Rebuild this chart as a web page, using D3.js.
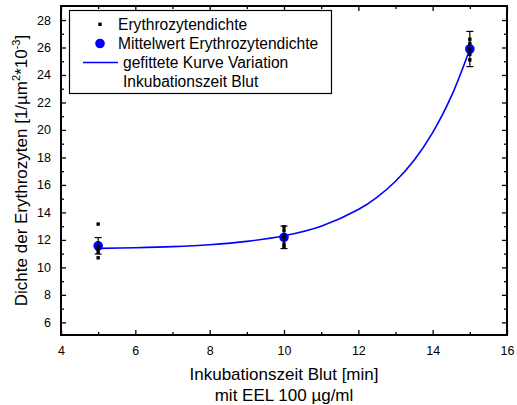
<!DOCTYPE html>
<html>
<head>
<meta charset="utf-8">
<script src="https://cdn.jsdelivr.net/npm/d3@7"></script>
<style>
  html, body { margin: 0; padding: 0; background: #fff; }
  svg { display: block; font-family: "Liberation Sans", Arial, sans-serif; }
</style>
</head>
<body>
<svg id="chart" width="517" height="405"></svg>
<script>
// Incubation times (min) and measured erythrocyte densities per time
const times = [5, 10, 15];
const densities = [
  [13.15, 11.5, 11.3, 11.1, 10.7],
  [12.95, 12.7, 12.2, 11.7, 11.5],
  [26.6, 26.3, 25.9, 25.5, 25.1]
];
// Mean values and their error bars
const means = [11.57, 12.19, 25.89];
const errors = [0.6, 0.82, 1.28];
// Fitted curve samples (exponential growth fit)
const fitX = [5, 6, 7, 8, 9, 10, 11, 12, 12.5, 13, 13.5, 14, 14.5, 15];
const fitY = [11.38, 11.43, 11.51, 11.65, 11.89, 12.30, 13.0, 14.21, 15.10, 16.27, 17.80, 19.81, 22.44, 25.88];
// Tick values
const xTicks = [4, 6, 8, 10, 12, 14, 16];
const xMinor = [5, 7, 9, 11, 13, 15];
const yTicks = [6, 8, 10, 12, 14, 16, 18, 20, 22, 24, 26, 28];
const yMinor = [7, 9, 11, 13, 15, 17, 19, 21, 23, 25, 27];
const legendLabels = ["Erythrozytendichte", "Mittelwert Erythrozytendichte", "gefittete Kurve Variation", "Inkubationszeit Blut"];

const blue = "#0000ff";
const svg = d3.select("#chart");
const pLeft = 61, pRight = 507, pTop = 6, pBottom = 335;

const x = d3.scaleLinear().domain([4, 16]).range([pLeft, pRight]);
const y = d3.scaleLinear().domain([5.08, 29.02]).range([pBottom, pTop]);

// Axes with inward-pointing ticks
function styleAxis(g) {
  g.select(".domain").remove();
  g.selectAll("line").attr("stroke", "#000").attr("stroke-width", 1.3);
  g.selectAll("text").attr("fill", "#000");
}
svg.append("g").attr("transform", `translate(0,${pBottom})`)
  .call(d3.axisBottom(x).tickValues(xTicks).tickSizeInner(-5).tickSizeOuter(0).tickPadding(11).tickFormat(d3.format("d")))
  .call(styleAxis).selectAll("text").attr("font-size", 12.5).attr("font-family", "Liberation Sans, Arial, sans-serif");
svg.append("g").attr("transform", `translate(0,${pBottom})`)
  .call(d3.axisBottom(x).tickValues(xMinor).tickSizeInner(-3).tickSizeOuter(0).tickFormat(""))
  .call(styleAxis);
svg.append("g").attr("transform", `translate(0,${pTop})`)
  .call(d3.axisTop(x).tickValues(xTicks).tickSizeInner(-5).tickSizeOuter(0).tickFormat(""))
  .call(styleAxis);
svg.append("g").attr("transform", `translate(0,${pTop})`)
  .call(d3.axisTop(x).tickValues(xMinor).tickSizeInner(-3).tickSizeOuter(0).tickFormat(""))
  .call(styleAxis);

svg.append("g").attr("transform", `translate(${pLeft},0)`)
  .call(d3.axisLeft(y).tickValues(yTicks).tickSizeInner(-5).tickSizeOuter(0).tickPadding(10).tickFormat(d3.format("d")))
  .call(styleAxis).selectAll("text").attr("font-size", 12.5).attr("font-family", "Liberation Sans, Arial, sans-serif");
svg.append("g").attr("transform", `translate(${pLeft},0)`)
  .call(d3.axisLeft(y).tickValues(yMinor).tickSizeInner(-3).tickSizeOuter(0).tickFormat(""))
  .call(styleAxis);
svg.append("g").attr("transform", `translate(${pRight},0)`)
  .call(d3.axisRight(y).tickValues(yTicks).tickSizeInner(-5).tickSizeOuter(0).tickFormat(""))
  .call(styleAxis);
svg.append("g").attr("transform", `translate(${pRight},0)`)
  .call(d3.axisRight(y).tickValues(yMinor).tickSizeInner(-3).tickSizeOuter(0).tickFormat(""))
  .call(styleAxis);

// Plot frame
svg.append("rect")
  .attr("x", pLeft).attr("y", pTop)
  .attr("width", pRight - pLeft).attr("height", pBottom - pTop)
  .attr("fill", "none").attr("stroke", "#000").attr("stroke-width", 2);

// Fitted curve
const fitPts = fitX.map((d, i) => [d, fitY[i]]);
svg.append("path")
  .datum(fitPts)
  .attr("fill", "none").attr("stroke", blue).attr("stroke-width", 1.6)
  .attr("d", d3.line().x(d => x(d[0])).y(d => y(d[1])).curve(d3.curveCatmullRom.alpha(0.5)));

// Mean markers
svg.append("g").selectAll("circle")
  .data(times.map((t, i) => [t, means[i]]))
  .join("circle")
  .attr("cx", d => x(d[0])).attr("cy", d => y(d[1])).attr("r", 4.8)
  .attr("fill", blue);

// Error bars
const eb = svg.append("g").attr("stroke", "#000").attr("stroke-width", 1.2);
times.forEach((t, i) => {
  const cx = x(t), y1 = y(means[i] + errors[i]), y2 = y(means[i] - errors[i]);
  eb.append("line").attr("x1", cx).attr("x2", cx).attr("y1", y1).attr("y2", y2);
  eb.append("line").attr("x1", cx - 3.5).attr("x2", cx + 3.5).attr("y1", y1).attr("y2", y1);
  eb.append("line").attr("x1", cx - 3.5).attr("x2", cx + 3.5).attr("y1", y2).attr("y2", y2);
});

// Individual measurements
const pts = [];
times.forEach((t, i) => densities[i].forEach(v => pts.push([t, v])));
svg.append("g").selectAll("rect")
  .data(pts)
  .join("rect")
  .attr("x", d => x(d[0]) - 1.7).attr("y", d => y(d[1]) - 1.7)
  .attr("width", 3.4).attr("height", 3.4)
  .attr("fill", "#000");

// Legend
const lg = svg.append("g");
lg.append("rect").attr("x", 69.5).attr("y", 10.5).attr("width", 262).attr("height", 83)
  .attr("fill", "#fff").attr("stroke", "#000").attr("stroke-width", 1.2);
lg.append("rect").attr("x", 98.3).attr("y", 22.6).attr("width", 3.4).attr("height", 3.4).attr("fill", "#000");
lg.append("circle").attr("cx", 100).attr("cy", 43.5).attr("r", 4.8).attr("fill", blue);
lg.append("line").attr("x1", 83).attr("x2", 118).attr("y1", 62.5).attr("y2", 62.5)
  .attr("stroke", blue).attr("stroke-width", 1.6);
const lx = [118, 118, 123, 123];
const ly = [29.5, 48.5, 67.5, 86.5];
lg.selectAll("text.leg")
  .data(legendLabels)
  .join("text")
  .attr("class", "leg")
  .attr("x", (d, i) => lx[i]).attr("y", (d, i) => ly[i])
  .attr("font-size", 15.6).attr("fill", "#000")
  .text(d => d);

// Axis titles
const xt = svg.append("text").attr("text-anchor", "middle").attr("font-size", 17).attr("fill", "#000");
xt.append("tspan").attr("x", (pLeft + pRight) / 2).attr("y", 380).text("Inkubationszeit Blut [min]");
xt.append("tspan").attr("x", (pLeft + pRight) / 2).attr("y", 401).text("mit EEL 100 µg/ml");

const yt = svg.append("text")
  .attr("text-anchor", "middle").attr("font-size", 17).attr("fill", "#000")
  .attr("transform", `translate(27,${(pTop + pBottom) / 2}) rotate(-90)`);
yt.append("tspan").text("Dichte der Erythrozyten [1/µm");
yt.append("tspan").attr("font-size", 11).attr("dy", -7).text("2");
yt.append("tspan").attr("dy", 7).text("*10");
yt.append("tspan").attr("font-size", 11).attr("dy", -7).text("-3");
yt.append("tspan").attr("dy", 7).text("]");
</script>
</body>
</html>
